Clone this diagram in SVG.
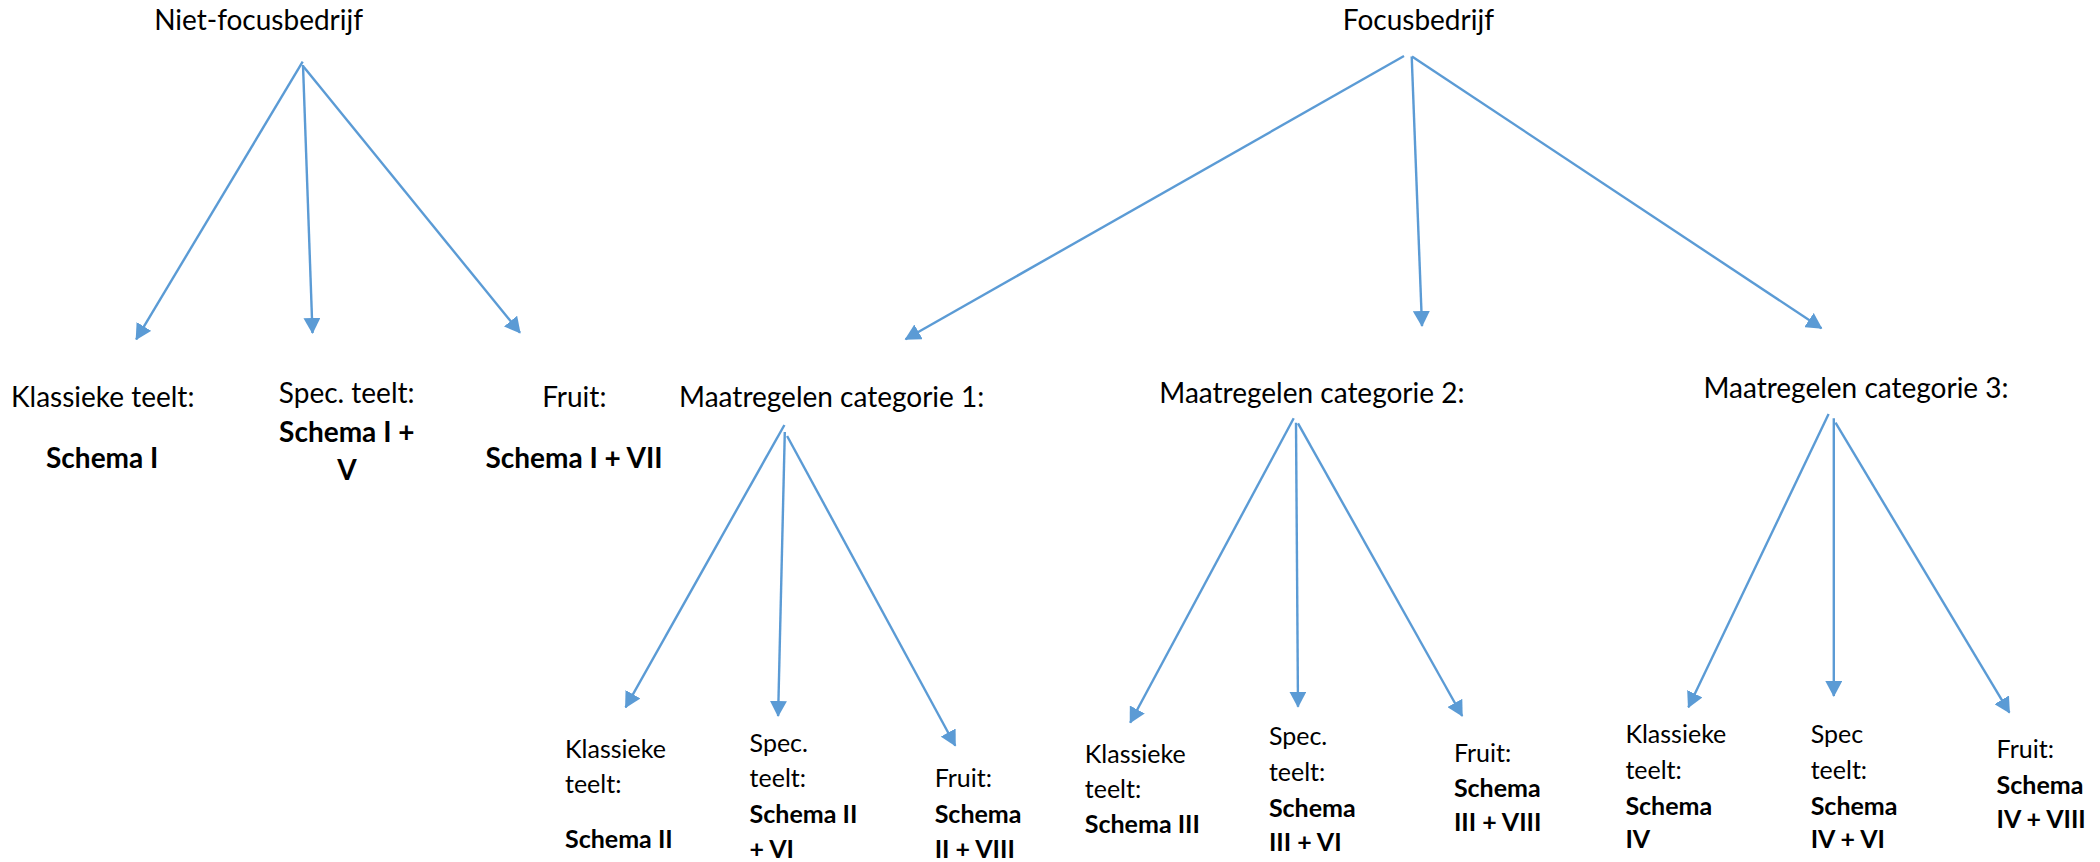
<svg xmlns="http://www.w3.org/2000/svg" width="2100" height="862" viewBox="0 0 2100 862">
<style>
  text { font-family: Lato, "Liberation Sans", sans-serif; fill: #000; }
  .l1 { font-size: 28px; text-anchor: middle; }
  .l2 { font-size: 25px; }
  .b { font-weight: bold; }
  .c line { stroke: #5B9BD5; stroke-width: 2.4; fill: none; marker-end: url(#ah); }
</style>
<defs>
  <marker id="ah" markerUnits="userSpaceOnUse" markerWidth="16" markerHeight="17" viewBox="0 0 16 17" refX="15" refY="8.5" orient="auto">
    <path d="M0,0 L16,8.5 L0,17 z" fill="#5B9BD5"/>
  </marker>
</defs>
<rect width="2100" height="862" fill="#fff"/>
<g id="connectors" class="c">
  <line x1="302.7" y1="61.7" x2="136.2" y2="339.3"/>
  <line x1="303" y1="65" x2="312.5" y2="333"/>
  <line x1="303.6" y1="66.7" x2="520" y2="332.7"/>
  <line x1="1404" y1="56" x2="905.5" y2="339.3"/>
  <line x1="1411.7" y1="56.5" x2="1422" y2="326"/>
  <line x1="1412" y1="56.5" x2="1821.5" y2="328.3"/>
  <line x1="784.4" y1="425" x2="625.6" y2="707.3"/>
  <line x1="784.8" y1="432" x2="778.1" y2="716"/>
  <line x1="787.1" y1="436" x2="955.3" y2="745.7"/>
  <line x1="1293.7" y1="418.3" x2="1130.2" y2="722.7"/>
  <line x1="1296" y1="422.7" x2="1298" y2="706.7"/>
  <line x1="1298" y1="423.3" x2="1462.2" y2="716"/>
  <line x1="1828.6" y1="414" x2="1688.4" y2="707.3"/>
  <line x1="1833.8" y1="418.3" x2="1833.8" y2="696"/>
  <line x1="1835.5" y1="422.7" x2="2009.4" y2="712.7"/>
</g>
<g id="niet-focusbedrijf"><text class="l1" x="258.6" y="29.5">Niet-focusbedrijf</text></g>
<g id="focusbedrijf"><text class="l1" x="1418.4" y="29.5">Focusbedrijf</text></g>
<g id="niet-klassiek">
  <text class="l1" x="102.7" y="407">Klassieke teelt:</text>
  <text class="l1 b" x="102.2" y="468">Schema I</text>
</g>
<g id="niet-spec">
  <text class="l1" x="346.7" y="403">Spec. teelt:</text>
  <text class="l1 b" x="346.8" y="442">Schema I +</text>
  <text class="l1 b" x="346.9" y="480">V</text>
</g>
<g id="niet-fruit">
  <text class="l1" x="574.3" y="407">Fruit:</text>
  <text class="l1 b" x="574" y="468">Schema I + VII</text>
</g>
<g id="cat1"><text class="l1" x="831.7" y="407">Maatregelen categorie 1:</text></g>
<g id="cat2"><text class="l1" x="1311.9" y="403">Maatregelen categorie 2:</text></g>
<g id="cat3"><text class="l1" x="1856" y="398">Maatregelen categorie 3:</text></g>
<g id="cat1-klassiek">
  <text class="l2" x="565" y="758.3">Klassieke</text>
  <text class="l2" x="565" y="792.7">teelt:</text>
  <text class="l2 b" x="565" y="848.3">Schema II</text>
</g>
<g id="cat1-spec">
  <text class="l2" x="749.6" y="751.7">Spec.</text>
  <text class="l2" x="749.6" y="787.3">teelt:</text>
  <text class="l2 b" x="749.6" y="822.7">Schema II</text>
  <text class="l2 b" x="749.6" y="858">+ VI</text>
</g>
<g id="cat1-fruit">
  <text class="l2" x="934.7" y="787.3">Fruit:</text>
  <text class="l2 b" x="934.7" y="822.7">Schema</text>
  <text class="l2 b" x="934.7" y="858">II + VIII</text>
</g>
<g id="cat2-klassiek">
  <text class="l2" x="1084.8" y="763.3">Klassieke</text>
  <text class="l2" x="1084.8" y="798.3">teelt:</text>
  <text class="l2 b" x="1084.8" y="833.3">Schema III</text>
</g>
<g id="cat2-spec">
  <text class="l2" x="1268.9" y="745">Spec.</text>
  <text class="l2" x="1268.9" y="780.7">teelt:</text>
  <text class="l2 b" x="1268.9" y="816.7">Schema</text>
  <text class="l2 b" x="1268.9" y="850.7">III + VI</text>
</g>
<g id="cat2-fruit">
  <text class="l2" x="1453.9" y="761.7">Fruit:</text>
  <text class="l2 b" x="1453.9" y="796.7">Schema</text>
  <text class="l2 b" x="1453.9" y="830.7">III + VIII</text>
</g>
<g id="cat3-klassiek">
  <text class="l2" x="1625.4" y="743.3">Klassieke</text>
  <text class="l2" x="1625.4" y="779.3">teelt:</text>
  <text class="l2 b" x="1625.4" y="815">Schema</text>
  <text class="l2 b" x="1625.4" y="848.3">IV</text>
</g>
<g id="cat3-spec">
  <text class="l2" x="1810.7" y="743.3">Spec</text>
  <text class="l2" x="1810.7" y="779.3">teelt:</text>
  <text class="l2 b" x="1810.7" y="815">Schema</text>
  <text class="l2 b" x="1810.7" y="848.3">IV + VI</text>
</g>
<g id="cat3-fruit">
  <text class="l2" x="1996.6" y="758.3">Fruit:</text>
  <text class="l2 b" x="1996.6" y="794">Schema</text>
  <text class="l2 b" x="1996.6" y="828.3">IV + VIII</text>
</g>
</svg>
